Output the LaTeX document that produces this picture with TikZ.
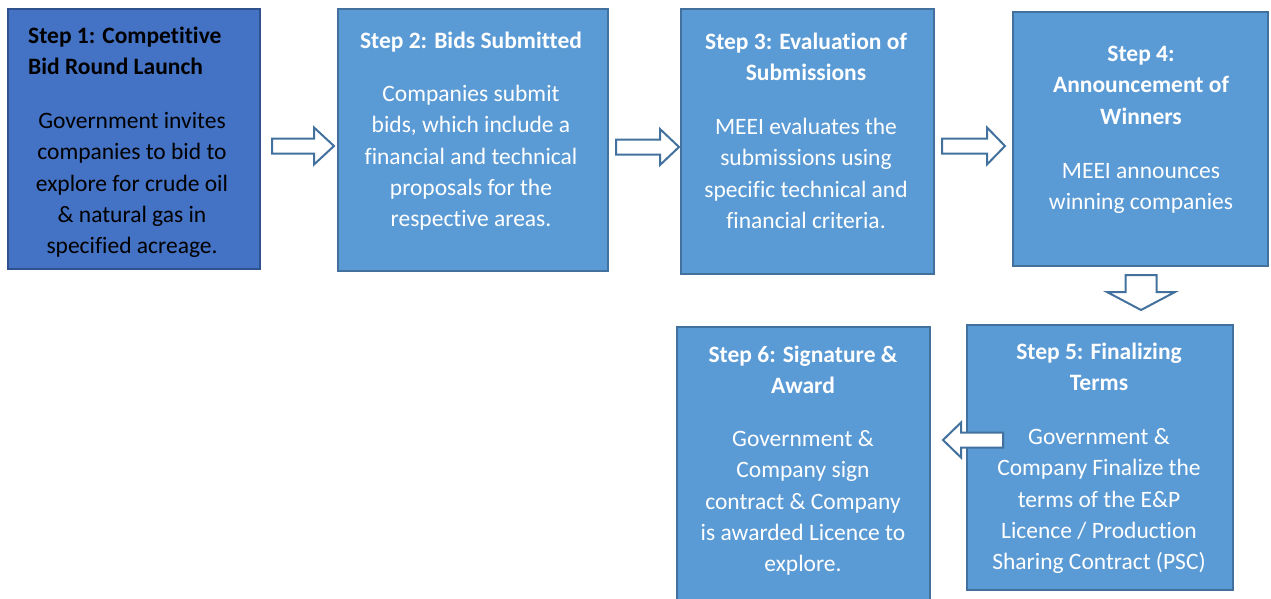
\documentclass[tikz,border=0pt]{standalone}
\usepackage{fontspec}
\setmainfont[Ligatures=NoCommon]{Carlito}
\definecolor{boxdark}{HTML}{4472C4}
\definecolor{boxdarkline}{HTML}{2F528F}
\definecolor{boxfill}{HTML}{5B9BD5}
\definecolor{boxline}{HTML}{41719C}
\newcommand{\firstline}{\rule{0pt}{20pt}}
\tikzset{
  stepbox/.style={draw=boxline, fill=boxfill, line width=2pt, anchor=north west, inner sep=0pt},
  firstbox/.style={stepbox, draw=boxdarkline, fill=boxdark},
  steptitle/.style={inner sep=0pt, align=center, anchor=north, text=white,
    font=\fontsize{23.5}{31.5}\selectfont\bfseries},
  stepbody/.style={inner sep=0pt, align=center, anchor=north, text=white,
    font=\fontsize{23.5}{31.4}\selectfont},
  blockarrow/.style={draw=boxline, fill=white, line width=2pt, line join=miter},
}
\begin{document}
\begin{tikzpicture}[x=1pt,y=-1pt]
\useasboundingbox (0,0) rectangle (1271,598);
\clip (0,0) rectangle (1271,598);

% step boxes
\node[firstbox, minimum width=252pt, minimum height=260pt] (s1) at (7,8) {};
\node[stepbox, minimum width=270pt, minimum height=262pt] (s2) at (337,8) {};
\node[stepbox, minimum width=253pt, minimum height=265pt] (s3) at (680,8) {};
\node[stepbox, minimum width=255pt, minimum height=254pt] (s4) at (1012,11) {};
\node[stepbox, minimum width=266pt, minimum height=265pt] (s5) at (966,324) {};
\node[stepbox, minimum width=253pt, minimum height=290pt] (s6) at (676,326) {};

% step 1
\node[steptitle, text=black, align=left, anchor=north west] (t1) at (28,23)
  {\firstline Step 1: Competitive\\Bid Round Launch};
\node[stepbody, text=black] (d1) at (132,108)
  {\firstline Government invites\\companies to bid to\\explore for crude oil\\\& natural gas in\\specified acreage.};

% step 2
\node[steptitle] (t2) at (471,28) {\firstline Step 2: Bids Submitted};
\node[stepbody] (d2) at (471,81)
  {\firstline Companies submit\\bids, which include a\\financial and technical\\proposals for the\\respective areas.};

% step 3
\node[steptitle] (t3) at (806,29) {\firstline Step 3: Evaluation of\\Submissions};
\node[stepbody] (d3) at (806,114)
  {\firstline MEEI evaluates the\\submissions using\\specific technical and\\financial criteria.};

% step 4
\node[steptitle] (t4) at (1141,41) {\firstline Step 4:\\Announcement of\\Winners};
\node[stepbody] (d4) at (1141,158)
  {\firstline MEEI announces\\winning companies};

% step 5
\node[steptitle] (t5) at (1099,339) {\firstline Step 5: Finalizing\\Terms};
\node[stepbody] (d5) at (1099,424)
  {\firstline Government \&\\Company Finalize the\\terms of the E\&P\\Licence / Production\\Sharing Contract (PSC)};

% step 6
\node[steptitle] (t6) at (803,342) {\firstline Step 6: Signature \&\\Award};
\node[stepbody] (d6) at (803,426)
  {\firstline Government \&\\Company sign\\contract \& Company\\is awarded Licence to\\explore.};

% block arrows between the steps
\coordinate (a12) at (272,146);
\coordinate (a23) at (616,147);
\coordinate (a34) at (942,146);
\coordinate (a45) at (1141,275);
\coordinate (a56) at (1003,440);

\draw[blockarrow] (a12) ++(0,-7.5) -- ++(42,0) -- ++(0,-11) -- ++(20,18.5)
  -- ++(-20,18.5) -- ++(0,-11) -- ++(-42,0) -- cycle;
\draw[blockarrow] (a23) ++(0,-7.5) -- ++(44,0) -- ++(0,-10.5) -- ++(19,18)
  -- ++(-19,18) -- ++(0,-10.5) -- ++(-44,0) -- cycle;
\draw[blockarrow] (a34) ++(0,-7.5) -- ++(45,0) -- ++(0,-11) -- ++(18,18.5)
  -- ++(-18,18.5) -- ++(0,-11) -- ++(-45,0) -- cycle;
\draw[blockarrow] (a45) ++(-15.5,0) -- ++(0,17) -- ++(-18.5,0) -- ++(34,18)
  -- ++(34,-18) -- ++(-18.5,0) -- ++(0,-17) -- cycle;
\draw[blockarrow] (a56) ++(0,-7.5) -- ++(-42,0) -- ++(0,-10) -- ++(-18,17.5)
  -- ++(18,17.5) -- ++(0,-10) -- ++(42,0) -- cycle;
\end{tikzpicture}
\end{document}
